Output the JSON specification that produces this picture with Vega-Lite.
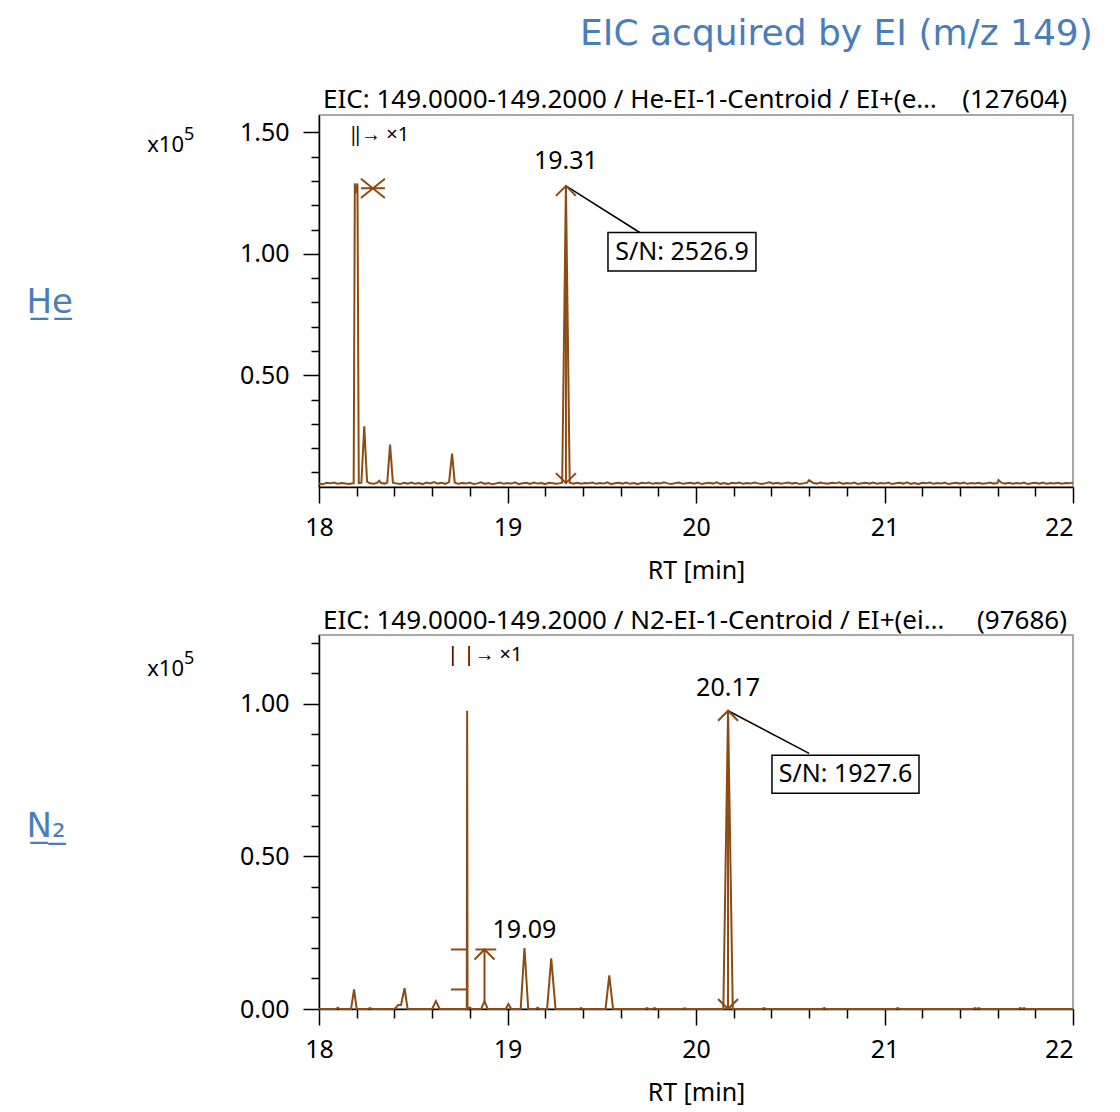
{
  "$schema": "https://vega.github.io/schema/vega-lite/v6.json",
  "padding": {"left": 25, "top": 15, "right": 10, "bottom": 5},
  "background": "white",
  "title": {"text": "EIC acquired by EI (m/z 149)", "anchor": "end", "dx": 15, "font": "DejaVu Sans", "fontSize": 36, "fontWeight": "normal", "color": "#4a7ebb", "offset": 34},
  "spacing": 23,
  "config": {
    "font": "Noto Sans",
    "axis": {"labelFont": "Noto Sans", "labelFontSize": 25, "labelColor": "#000", "titleFont": "Noto Sans", "titleFontSize": 25, "titleFontWeight": "normal", "titleColor": "#000", "domainColor": "#000", "domainWidth": 1.5, "tickColor": "#000", "tickWidth": 1.5, "grid": false, "labelOverlap": false, "tickCount": 100},
    "view": {"stroke": "#8c8c8c", "strokeWidth": 1.5}
  },
  "vconcat": [
    {
      "width": 754,
      "height": 372,
      "layer": [
        {
          "data": {"values": [
            {"t":18.00,"v":0.054},{"t":18.02,"v":0.051},{"t":18.04,"v":0.057},{"t":18.06,"v":0.055},{"t":18.08,"v":0.058},{"t":18.10,"v":0.053},{"t":18.12,"v":0.056},{"t":18.14,"v":0.054},{"t":18.16,"v":0.052},{"t":18.18,"v":0.055},
            {"t":18.184,"v":0.055},{"t":18.190,"v":1.29},{"t":18.198,"v":1.25},{"t":18.204,"v":1.29},{"t":18.211,"v":0.056},{"t":18.225,"v":0.058},{"t":18.240,"v":0.29},{"t":18.255,"v":0.062},{"t":18.27,"v":0.055},{"t":18.29,"v":0.053},
            {"t":18.31,"v":0.058},{"t":18.32,"v":0.066},{"t":18.33,"v":0.056},{"t":18.35,"v":0.054},{"t":18.362,"v":0.058},{"t":18.377,"v":0.215},{"t":18.392,"v":0.058},{"t":18.41,"v":0.055},{"t":18.43,"v":0.052},{"t":18.45,"v":0.057},
            {"t":18.47,"v":0.054},{"t":18.49,"v":0.058},{"t":18.51,"v":0.053},{"t":18.53,"v":0.056},{"t":18.55,"v":0.052},{"t":18.57,"v":0.058},{"t":18.59,"v":0.055},{"t":18.61,"v":0.06},{"t":18.63,"v":0.054},{"t":18.65,"v":0.057},
            {"t":18.67,"v":0.053},{"t":18.69,"v":0.06},{"t":18.706,"v":0.178},{"t":18.72,"v":0.058},{"t":18.74,"v":0.053},{"t":18.76,"v":0.056},{"t":18.78,"v":0.054},{"t":18.80,"v":0.058},{"t":18.82,"v":0.052},{"t":18.84,"v":0.055},
            {"t":18.86,"v":0.059},{"t":18.88,"v":0.053},{"t":18.90,"v":0.056},{"t":18.92,"v":0.051},{"t":18.94,"v":0.055},{"t":18.96,"v":0.058},{"t":18.98,"v":0.053},{"t":19.00,"v":0.056},{"t":19.02,"v":0.054},{"t":19.04,"v":0.059},
            {"t":19.06,"v":0.052},{"t":19.08,"v":0.055},{"t":19.10,"v":0.057},{"t":19.12,"v":0.053},{"t":19.14,"v":0.058},{"t":19.16,"v":0.054},{"t":19.18,"v":0.056},{"t":19.20,"v":0.052},{"t":19.22,"v":0.057},{"t":19.24,"v":0.055},
            {"t":19.26,"v":0.053},{"t":19.28,"v":0.056},{"t":19.29,"v":0.058},{"t":19.31,"v":1.28},{"t":19.33,"v":0.058},{"t":19.35,"v":0.054},{"t":19.37,"v":0.057},{"t":19.39,"v":0.053},{"t":19.41,"v":0.056},{"t":19.43,"v":0.055},
            {"t":19.45,"v":0.058},{"t":19.47,"v":0.053},{"t":19.49,"v":0.056},{"t":19.51,"v":0.054},{"t":19.53,"v":0.059},{"t":19.55,"v":0.052},{"t":19.57,"v":0.055},{"t":19.59,"v":0.057},{"t":19.61,"v":0.054},{"t":19.63,"v":0.058},
            {"t":19.65,"v":0.053},{"t":19.67,"v":0.056},{"t":19.69,"v":0.052},{"t":19.71,"v":0.057},{"t":19.73,"v":0.055},{"t":19.75,"v":0.058},{"t":19.77,"v":0.053},{"t":19.79,"v":0.056},{"t":19.81,"v":0.054},{"t":19.83,"v":0.059},
            {"t":19.85,"v":0.055},{"t":19.87,"v":0.052},{"t":19.89,"v":0.056},{"t":19.91,"v":0.058},{"t":19.93,"v":0.053},{"t":19.95,"v":0.055},{"t":19.97,"v":0.057},{"t":19.99,"v":0.054},{"t":20.01,"v":0.058},{"t":20.03,"v":0.052},
            {"t":20.05,"v":0.055},{"t":20.07,"v":0.057},{"t":20.09,"v":0.054},{"t":20.11,"v":0.059},{"t":20.13,"v":0.053},{"t":20.15,"v":0.056},{"t":20.17,"v":0.052},{"t":20.19,"v":0.057},{"t":20.21,"v":0.055},{"t":20.23,"v":0.058},
            {"t":20.25,"v":0.053},{"t":20.27,"v":0.056},{"t":20.29,"v":0.054},{"t":20.31,"v":0.058},{"t":20.33,"v":0.055},{"t":20.35,"v":0.052},{"t":20.37,"v":0.056},{"t":20.39,"v":0.059},{"t":20.41,"v":0.054},{"t":20.43,"v":0.057},
            {"t":20.45,"v":0.053},{"t":20.47,"v":0.056},{"t":20.49,"v":0.058},{"t":20.51,"v":0.054},{"t":20.53,"v":0.057},{"t":20.55,"v":0.052},{"t":20.57,"v":0.055},{"t":20.59,"v":0.058},{"t":20.60,"v":0.068},{"t":20.62,"v":0.057},
            {"t":20.64,"v":0.054},{"t":20.66,"v":0.058},{"t":20.68,"v":0.055},{"t":20.70,"v":0.053},{"t":20.72,"v":0.057},{"t":20.74,"v":0.055},{"t":20.76,"v":0.059},{"t":20.78,"v":0.053},{"t":20.80,"v":0.056},{"t":20.82,"v":0.054},
            {"t":20.84,"v":0.058},{"t":20.86,"v":0.052},{"t":20.88,"v":0.055},{"t":20.90,"v":0.057},{"t":20.92,"v":0.054},{"t":20.94,"v":0.058},{"t":20.96,"v":0.053},{"t":20.98,"v":0.056},{"t":21.00,"v":0.054},{"t":21.02,"v":0.058},
            {"t":21.04,"v":0.052},{"t":21.06,"v":0.055},{"t":21.08,"v":0.057},{"t":21.10,"v":0.054},{"t":21.12,"v":0.059},{"t":21.14,"v":0.053},{"t":21.16,"v":0.056},{"t":21.18,"v":0.052},{"t":21.20,"v":0.057},{"t":21.22,"v":0.055},
            {"t":21.24,"v":0.058},{"t":21.26,"v":0.053},{"t":21.28,"v":0.056},{"t":21.30,"v":0.054},{"t":21.32,"v":0.058},{"t":21.34,"v":0.052},{"t":21.36,"v":0.055},{"t":21.38,"v":0.057},{"t":21.40,"v":0.054},{"t":21.42,"v":0.058},
            {"t":21.44,"v":0.053},{"t":21.46,"v":0.056},{"t":21.48,"v":0.054},{"t":21.50,"v":0.057},{"t":21.52,"v":0.053},{"t":21.54,"v":0.055},{"t":21.56,"v":0.058},{"t":21.58,"v":0.054},{"t":21.60,"v":0.057},{"t":21.605,"v":0.069},
            {"t":21.62,"v":0.058},{"t":21.64,"v":0.054},{"t":21.66,"v":0.057},{"t":21.68,"v":0.053},{"t":21.70,"v":0.056},{"t":21.72,"v":0.054},{"t":21.74,"v":0.058},{"t":21.76,"v":0.052},{"t":21.78,"v":0.055},{"t":21.80,"v":0.057},
            {"t":21.82,"v":0.054},{"t":21.84,"v":0.058},{"t":21.86,"v":0.053},{"t":21.88,"v":0.056},{"t":21.90,"v":0.054},{"t":21.92,"v":0.057},{"t":21.94,"v":0.053},{"t":21.96,"v":0.056},{"t":21.98,"v":0.055},{"t":22.00,"v":0.058}
          ]},
          "mark": {"type": "line", "color": "#8c4b12", "strokeWidth": 2},
          "encoding": {
            "x": {"field": "t", "type": "quantitative", "scale": {"domain": [18, 22], "nice": false, "zero": false},
              "axis": {"title": "RT [min]", "values": [18,18.2,18.4,18.6,18.8,19,19.2,19.4,19.6,19.8,20,20.2,20.4,20.6,20.8,21,21.2,21.4,21.6,21.8,22],
                "labelExpr": "abs(datum.value-round(datum.value))<0.001 ? format(datum.value,'d') : ''",
                "labelFlush": false,
                "labelAlign": {"condition": {"test": "datum.value > 21.99", "value": "right"}, "value": "center"},
                "tickSize": {"condition": {"test": "abs(datum.value-round(datum.value))<0.001", "value": 16}, "value": 9},
                "labelPadding": 12, "titlePadding": 18}},
            "y": {"field": "v", "type": "quantitative", "scale": {"domain": [0.04, 1.572], "nice": false, "zero": false},
              "axis": {"title": "H̲e̲", "titleAngle": 0, "titleX": -293, "titleY": 187, "titleAlign": "left", "titleBaseline": "middle", "titleFont": "DejaVu Sans", "titleFontSize": 34, "titleColor": "#4a7ebb",
                "values": [0.1,0.2,0.3,0.4,0.5,0.6,0.7,0.8,0.9,1.0,1.1,1.2,1.3,1.4,1.5],
                "labelExpr": "abs(datum.value*2-round(datum.value*2))<0.001 ? format(datum.value,'.2f') : ''",
                "tickSize": {"condition": {"test": "abs(datum.value*2-round(datum.value*2))<0.001", "value": 16}, "value": 8},
                "labelPadding": 14}}
          }
        },
        {
          "data": {"values": [
            {"t":19.31,"t2":19.31,"v":0.058,"v2":1.28}
          ]},
          "mark": {"type": "rule", "color": "#8c4b12", "strokeWidth": 2},
          "encoding": {"x": {"field": "t", "type": "quantitative"}, "x2": {"field": "t2"}, "y": {"field": "v", "type": "quantitative"}, "y2": {"field": "v2"}}
        },
        {
          "data": {"values": [
            {"t":19.31,"t2":19.708,"v":1.28,"v2":1.085}
          ]},
          "mark": {"type": "rule", "color": "#000", "strokeWidth": 1.5},
          "encoding": {"x": {"field": "t", "type": "quantitative"}, "x2": {"field": "t2"}, "y": {"field": "v", "type": "quantitative"}, "y2": {"field": "v2"}}
        },
        {
          "data": {"values": [
            {"t":19.533,"t2":20.318,"v":0.930,"v2":1.088}
          ]},
          "mark": {"type": "rect", "fill": "white", "stroke": "#000", "strokeWidth": 1.5},
          "encoding": {"x": {"field": "t", "type": "quantitative"}, "x2": {"field": "t2"}, "y": {"field": "v", "type": "quantitative"}, "y2": {"field": "v2"}}
        },
        {
          "data": {"values": [
            {"t":19.31,"v":1.381,"label":"19.31"},
            {"t":19.926,"v":1.009,"label":"S/N: 2526.9"}
          ]},
          "mark": {"type": "text", "align": "center", "baseline": "middle", "fontSize": 25, "font": "Noto Sans", "color": "#000"},
          "encoding": {"x": {"field": "t", "type": "quantitative"}, "y": {"field": "v", "type": "quantitative"}, "text": {"field": "label"}}
        },
        {
          "data": {"values": [
            {"t":18,"v":1.632,"label":"EIC: 149.0000-149.2000 / He-EI-1-Centroid / EI+(e…"}
          ]},
          "mark": {"type": "text", "align": "left", "baseline": "middle", "dx": 4, "fontSize": 26, "font": "Noto Sans", "color": "#000"},
          "encoding": {"x": {"field": "t", "type": "quantitative"}, "y": {"field": "v", "type": "quantitative"}, "text": {"field": "label"}}
        },
        {
          "data": {"values": [
            {"t":22,"v":1.632,"label":"(127604)"}
          ]},
          "mark": {"type": "text", "align": "right", "baseline": "middle", "dx": -6, "fontSize": 26, "font": "Noto Sans", "color": "#000"},
          "encoding": {"x": {"field": "t", "type": "quantitative"}, "y": {"field": "v", "type": "quantitative"}, "text": {"field": "label"}}
        },
        {
          "data": {"values": [
            {"t":18,"v":1.449,"label":"x10"}
          ]},
          "mark": {"type": "text", "align": "right", "baseline": "middle", "dx": -135, "fontSize": 22, "font": "Noto Sans", "color": "#000"},
          "encoding": {"x": {"field": "t", "type": "quantitative"}, "y": {"field": "v", "type": "quantitative"}, "text": {"field": "label"}}
        },
        {
          "data": {"values": [
            {"t":18,"v":1.49,"label":"5"}
          ]},
          "mark": {"type": "text", "align": "left", "baseline": "middle", "dx": -135, "fontSize": 18, "font": "Noto Sans", "color": "#000"},
          "encoding": {"x": {"field": "t", "type": "quantitative"}, "y": {"field": "v", "type": "quantitative"}, "text": {"field": "label"}}
        },
        {
          "data": {"values": [
            {"t":18.165,"v":1.49,"label":"‖→ ×1"}
          ]},
          "mark": {"type": "text", "align": "left", "baseline": "middle", "fontSize": 20, "font": "Noto Sans", "color": "#000"},
          "encoding": {"x": {"field": "t", "type": "quantitative"}, "y": {"field": "v", "type": "quantitative"}, "text": {"field": "label"}}
        },
        {
          "data": {"values": [
            {"t":18.286,"v":1.27}
          ]},
          "mark": {"type": "point", "shape": "M-1,-0.8L1,0.8M-1,0.8L1,-0.8M-1,0H1", "size": 576, "filled": false, "color": "#8c4b12", "strokeWidth": 2, "opacity": 1},
          "encoding": {"x": {"field": "t", "type": "quantitative"}, "y": {"field": "v", "type": "quantitative"}}
        },
        {
          "data": {"values": [
            {"t":19.31,"v":1.28}
          ]},
          "mark": {"type": "point", "shape": "M-1,1L0,0L1,1", "size": 400, "filled": false, "color": "#8c4b12", "strokeWidth": 2, "opacity": 1},
          "encoding": {"x": {"field": "t", "type": "quantitative"}, "y": {"field": "v", "type": "quantitative"}}
        },
        {
          "data": {"values": [
            {"t":19.31,"v":0.056}
          ]},
          "mark": {"type": "point", "shape": "M-1,-1L0,0L1,-1", "size": 400, "filled": false, "color": "#8c4b12", "strokeWidth": 2, "opacity": 1},
          "encoding": {"x": {"field": "t", "type": "quantitative"}, "y": {"field": "v", "type": "quantitative"}}
        }
      ]
    },
    {
      "width": 754,
      "height": 374,
      "layer": [
        {
          "data": {"values": [
            {"t":18.00,"v":0},{"t":18.09,"v":0},{"t":18.10,"v":0.004},{"t":18.11,"v":0},{"t":18.17,"v":0},{"t":18.186,"v":0.064},{"t":18.20,"v":0},{"t":18.26,"v":0},{"t":18.27,"v":0.003},{"t":18.28,"v":0},
            {"t":18.40,"v":0},{"t":18.41,"v":0.006},{"t":18.42,"v":0.013},{"t":18.435,"v":0.013},{"t":18.454,"v":0.068},{"t":18.47,"v":0},{"t":18.60,"v":0},{"t":18.62,"v":0.026},{"t":18.64,"v":0},
            {"t":18.784,"v":0},{"t":18.786,"v":0.977},{"t":18.788,"v":0},{"t":18.80,"v":0.005},{"t":18.81,"v":0},{"t":18.86,"v":0},{"t":18.878,"v":0.026},{"t":18.895,"v":0},
            {"t":18.99,"v":0},{"t":19.005,"v":0.016},{"t":19.02,"v":0},{"t":19.07,"v":0},{"t":19.09,"v":0.20},{"t":19.11,"v":0},{"t":19.15,"v":0},{"t":19.16,"v":0.004},{"t":19.17,"v":0},
            {"t":19.21,"v":0},{"t":19.232,"v":0.166},{"t":19.255,"v":0},{"t":19.38,"v":0},{"t":19.39,"v":0.003},{"t":19.40,"v":0},{"t":19.52,"v":0},{"t":19.54,"v":0.11},{"t":19.56,"v":0},
            {"t":19.73,"v":0},{"t":19.74,"v":0.003},{"t":19.75,"v":0},{"t":19.77,"v":0},{"t":19.78,"v":0.003},{"t":19.79,"v":0},{"t":19.93,"v":0},{"t":19.94,"v":0.002},{"t":19.95,"v":0},
            {"t":20.145,"v":0},{"t":20.17,"v":0.977},{"t":20.195,"v":0},{"t":20.35,"v":0},{"t":20.36,"v":0.003},{"t":20.37,"v":0},{"t":20.67,"v":0},{"t":20.68,"v":0.003},{"t":20.69,"v":0},
            {"t":21.06,"v":0},{"t":21.07,"v":0.003},{"t":21.08,"v":0},{"t":21.47,"v":0},{"t":21.48,"v":0.003},{"t":21.49,"v":0},{"t":21.50,"v":0.003},{"t":21.51,"v":0},
            {"t":21.71,"v":0},{"t":21.72,"v":0.003},{"t":21.73,"v":0},{"t":21.74,"v":0.003},{"t":21.75,"v":0},{"t":22.00,"v":0}
          ]},
          "mark": {"type": "line", "color": "#8c4b12", "strokeWidth": 2},
          "encoding": {
            "x": {"field": "t", "type": "quantitative", "scale": {"domain": [18, 22], "nice": false, "zero": false},
              "axis": {"title": "RT [min]", "values": [18,18.2,18.4,18.6,18.8,19,19.2,19.4,19.6,19.8,20,20.2,20.4,20.6,20.8,21,21.2,21.4,21.6,21.8,22],
                "labelExpr": "abs(datum.value-round(datum.value))<0.001 ? format(datum.value,'d') : ''",
                "labelFlush": false,
                "labelAlign": {"condition": {"test": "datum.value > 21.99", "value": "right"}, "value": "center"},
                "tickSize": {"condition": {"test": "abs(datum.value-round(datum.value))<0.001", "value": 16}, "value": 9},
                "labelPadding": 12, "titlePadding": 18}},
            "y": {"field": "v", "type": "quantitative", "scale": {"domain": [0, 1.225], "nice": false, "zero": false},
              "axis": {"title": "N̲₂̲", "titleAngle": 0, "titleX": -293, "titleY": 191, "titleAlign": "left", "titleBaseline": "middle", "titleFont": "DejaVu Sans", "titleFontSize": 34, "titleColor": "#4a7ebb",
                "values": [0,0.1,0.2,0.3,0.4,0.5,0.6,0.7,0.8,0.9,1.0,1.1,1.2],
                "labelExpr": "abs(datum.value*2-round(datum.value*2))<0.001 ? format(datum.value,'.2f') : ''",
                "tickSize": {"condition": {"test": "abs(datum.value*2-round(datum.value*2))<0.001", "value": 16}, "value": 8},
                "labelPadding": 14}}
          }
        },
        {
          "data": {"values": [
            {"t":20.17,"t2":20.17,"v":0,"v2":0.977},
            {"t":18.878,"t2":18.878,"v":0.026,"v2":0.195},
            {"t":18.70,"t2":18.79,"v":0.195,"v2":0.195},
            {"t":18.83,"t2":18.94,"v":0.195,"v2":0.195},
            {"t":18.70,"t2":18.79,"v":0.064,"v2":0.064}
          ]},
          "mark": {"type": "rule", "color": "#8c4b12", "strokeWidth": 2},
          "encoding": {"x": {"field": "t", "type": "quantitative"}, "x2": {"field": "t2"}, "y": {"field": "v", "type": "quantitative"}, "y2": {"field": "v2"}}
        },
        {
          "data": {"values": [
            {"t":20.17,"t2":20.60,"v":0.977,"v2":0.837}
          ]},
          "mark": {"type": "rule", "color": "#000", "strokeWidth": 1.5},
          "encoding": {"x": {"field": "t", "type": "quantitative"}, "x2": {"field": "t2"}, "y": {"field": "v", "type": "quantitative"}, "y2": {"field": "v2"}}
        },
        {
          "data": {"values": [
            {"t":20.403,"t2":21.183,"v":0.707,"v2":0.831}
          ]},
          "mark": {"type": "rect", "fill": "white", "stroke": "#000", "strokeWidth": 1.5},
          "encoding": {"x": {"field": "t", "type": "quantitative"}, "x2": {"field": "t2"}, "y": {"field": "v", "type": "quantitative"}, "y2": {"field": "v2"}}
        },
        {
          "data": {"values": [
            {"t":20.17,"v":1.053,"label":"20.17"},
            {"t":19.09,"v":0.258,"label":"19.09"},
            {"t":20.793,"v":0.769,"label":"S/N: 1927.6"}
          ]},
          "mark": {"type": "text", "align": "center", "baseline": "middle", "fontSize": 25, "font": "Noto Sans", "color": "#000"},
          "encoding": {"x": {"field": "t", "type": "quantitative"}, "y": {"field": "v", "type": "quantitative"}, "text": {"field": "label"}}
        },
        {
          "data": {"values": [
            {"t":18,"v":1.271,"label":"EIC: 149.0000-149.2000 / N2-EI-1-Centroid / EI+(ei…"}
          ]},
          "mark": {"type": "text", "align": "left", "baseline": "middle", "dx": 4, "fontSize": 26, "font": "Noto Sans", "color": "#000"},
          "encoding": {"x": {"field": "t", "type": "quantitative"}, "y": {"field": "v", "type": "quantitative"}, "text": {"field": "label"}}
        },
        {
          "data": {"values": [
            {"t":22,"v":1.271,"label":"(97686)"}
          ]},
          "mark": {"type": "text", "align": "right", "baseline": "middle", "dx": -6, "fontSize": 26, "font": "Noto Sans", "color": "#000"},
          "encoding": {"x": {"field": "t", "type": "quantitative"}, "y": {"field": "v", "type": "quantitative"}, "text": {"field": "label"}}
        },
        {
          "data": {"values": [
            {"t":18,"v":1.115,"label":"x10"}
          ]},
          "mark": {"type": "text", "align": "right", "baseline": "middle", "dx": -135, "fontSize": 22, "font": "Noto Sans", "color": "#000"},
          "encoding": {"x": {"field": "t", "type": "quantitative"}, "y": {"field": "v", "type": "quantitative"}, "text": {"field": "label"}}
        },
        {
          "data": {"values": [
            {"t":18,"v":1.148,"label":"5"}
          ]},
          "mark": {"type": "text", "align": "left", "baseline": "middle", "dx": -135, "fontSize": 18, "font": "Noto Sans", "color": "#000"},
          "encoding": {"x": {"field": "t", "type": "quantitative"}, "y": {"field": "v", "type": "quantitative"}, "text": {"field": "label"}}
        },
        {
          "data": {"values": [
            {"t":18.68,"v":1.158,"label":"| |→ ×1"}
          ]},
          "mark": {"type": "text", "align": "left", "baseline": "middle", "fontSize": 20, "font": "Noto Sans", "color": "#000"},
          "encoding": {"x": {"field": "t", "type": "quantitative"}, "y": {"field": "v", "type": "quantitative"}, "text": {"field": "label"}}
        },
        {
          "data": {"values": [
            {"t":20.17,"v":0.977},
            {"t":18.878,"v":0.195}
          ]},
          "mark": {"type": "point", "shape": "M-1,1L0,0L1,1", "size": 400, "filled": false, "color": "#8c4b12", "strokeWidth": 2, "opacity": 1},
          "encoding": {"x": {"field": "t", "type": "quantitative"}, "y": {"field": "v", "type": "quantitative"}}
        },
        {
          "data": {"values": [
            {"t":20.17,"v":0.0}
          ]},
          "mark": {"type": "point", "shape": "M-1,-1L0,0L1,-1", "size": 400, "filled": false, "color": "#8c4b12", "strokeWidth": 2, "opacity": 1},
          "encoding": {"x": {"field": "t", "type": "quantitative"}, "y": {"field": "v", "type": "quantitative"}}
        }
      ]
    }
  ]
}
